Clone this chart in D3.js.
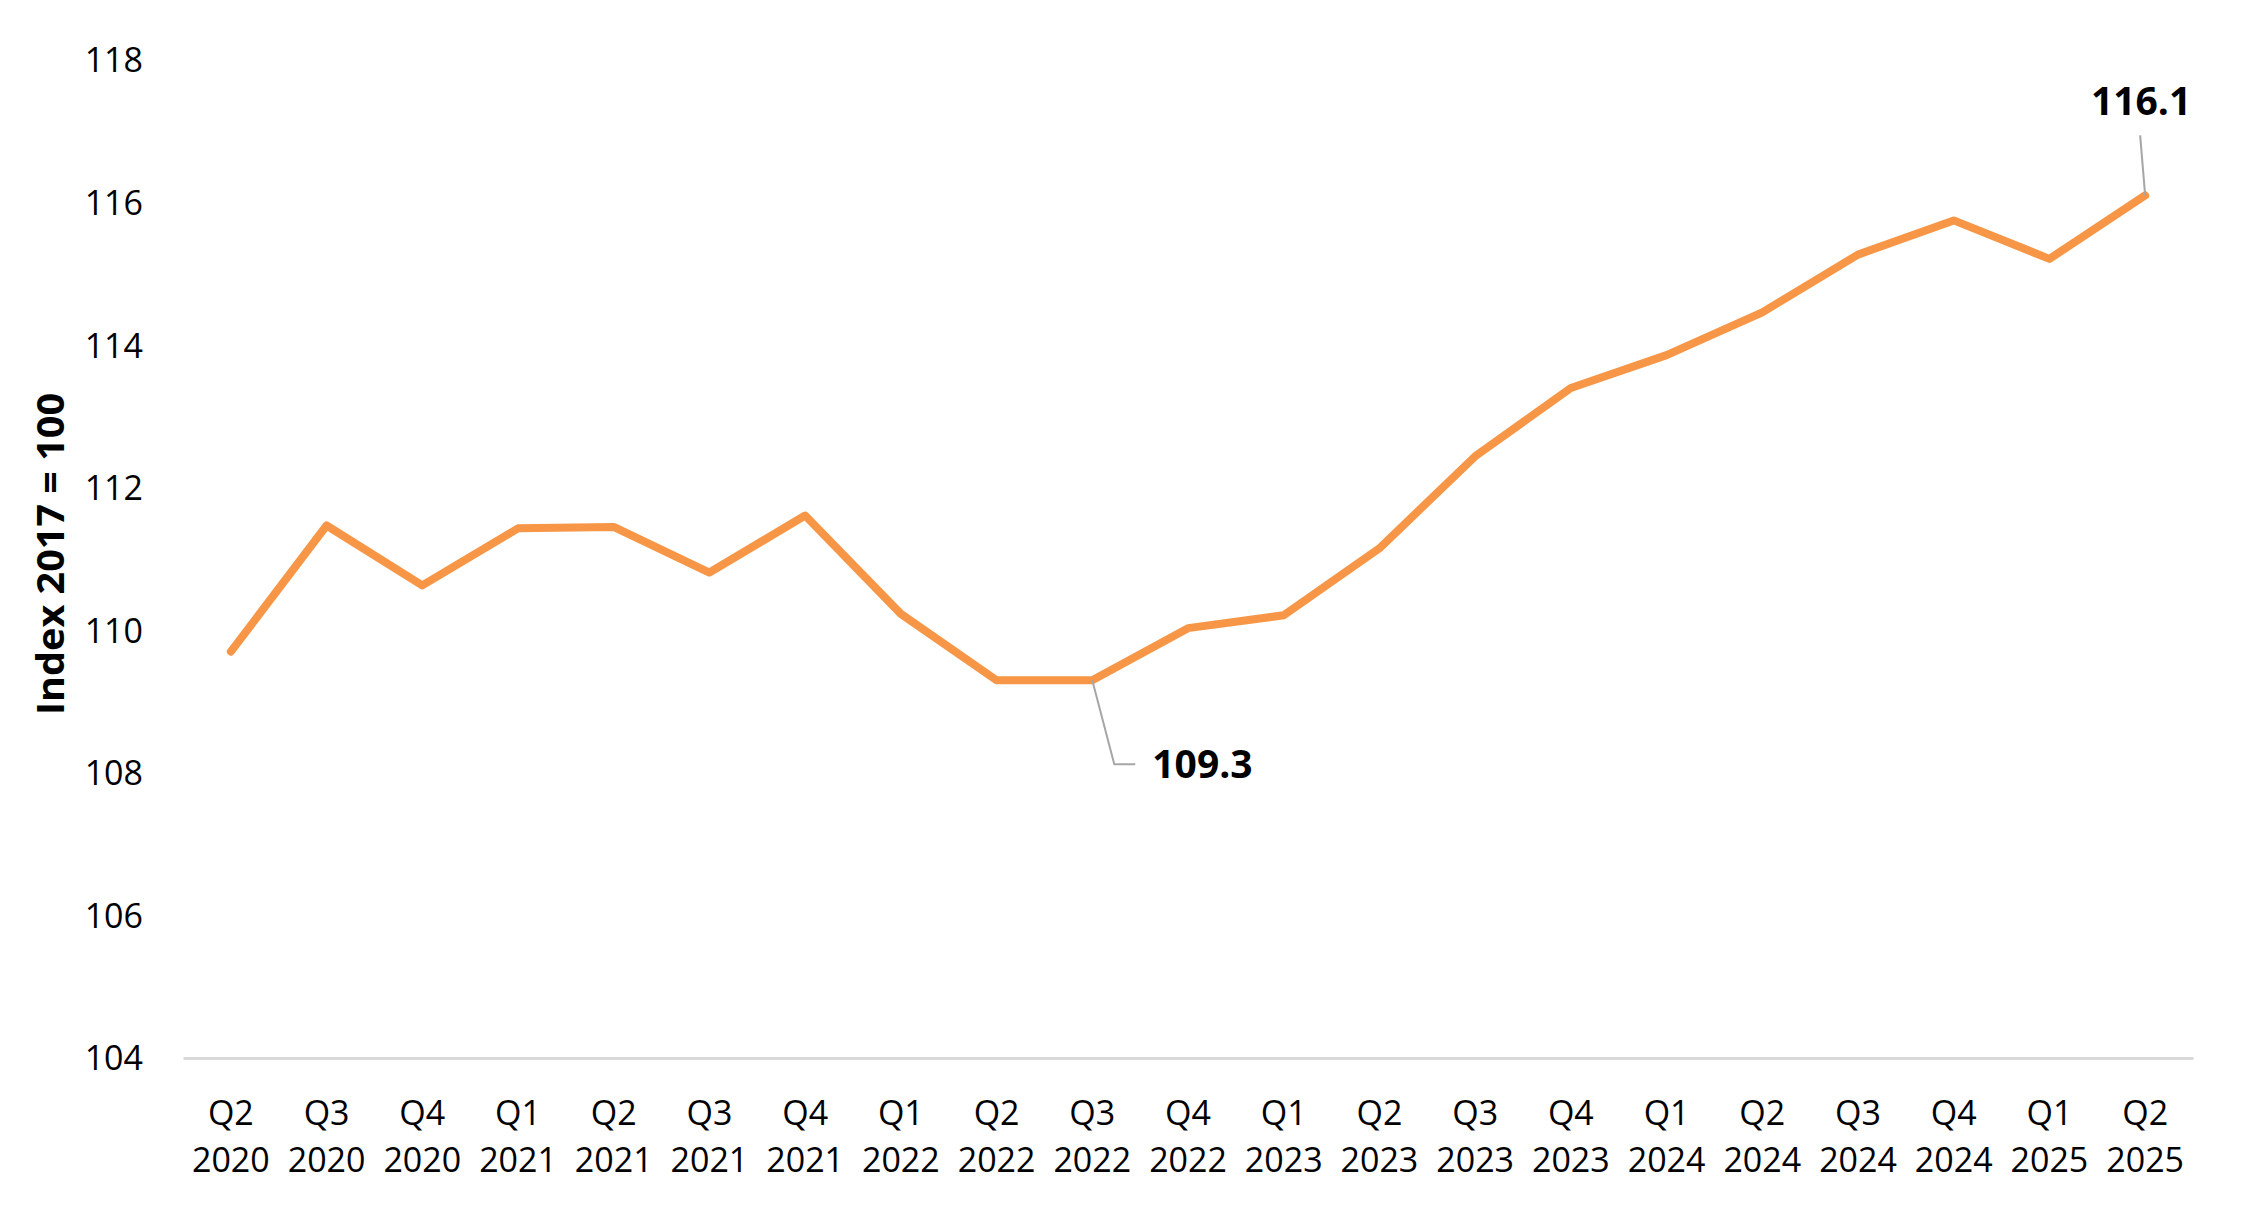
<!DOCTYPE html>
<html>
<head>
<meta charset="utf-8">
<script src="https://cdn.jsdelivr.net/npm/d3@7"></script>
<style>
  html, body { margin: 0; padding: 0; background: #fff; }
  svg { display: block; }
  text { font-family: "Open Sans", "Noto Sans", sans-serif; fill: #000; }
</style>
</head>
<body>
<script>
const quarters = ["Q2","Q3","Q4","Q1","Q2","Q3","Q4","Q1","Q2","Q3","Q4","Q1","Q2","Q3","Q4","Q1","Q2","Q3","Q4","Q1","Q2"];
const years = ["2020","2020","2020","2021","2021","2021","2021","2022","2022","2022","2022","2023","2023","2023","2023","2024","2024","2024","2024","2025","2025"];
const values = [109.7,111.47,110.63,111.43,111.45,110.81,111.61,110.23,109.3,109.3,110.03,110.21,111.15,112.44,113.4,113.86,114.46,115.27,115.75,115.21,116.1];
const yTicks = [104,106,108,110,112,114,116,118];
const yTitle = "Index 2017 = 100";
const annotated = [9, 20];

(function () {
const W = 2245, H = 1215;
const mLeft = 183, mRight = 2193, mTop = 60, mBottom = 1058;

const svg = d3.select("body").append("svg").attr("width", W).attr("height", H);

const cats = values.map((v, i) => i);
const x = d3.scaleBand().domain(cats).range([mLeft, mRight]).padding(0);
const cx = i => x(i) + x.bandwidth() / 2;
const y = d3.scaleLinear().domain([104, 118]).range([mBottom, mTop]);

// y axis labels
const yAxis = d3.axisLeft(y).tickValues(yTicks).tickSize(0).tickPadding(0).tickFormat(d3.format("d"));
const gy = svg.append("g").attr("transform", `translate(143,0)`).call(yAxis);
gy.select(".domain").remove();
gy.selectAll("text").style("font-size", "34px").attr("dy", "0.35em").style("fill", "#000").style("font-family", "'Open Sans', sans-serif");

// x axis
const xAxis = d3.axisBottom(x).tickSize(0).tickFormat(() => "");
const gx = svg.append("g").attr("transform", `translate(0,${mBottom})`).call(xAxis);
gx.select(".domain").attr("stroke", "#D9D9D9").attr("stroke-width", 3);
gx.selectAll(".tick").each(function(d) {
  const t = d3.select(this).select("text").text(null).attr("y", 0).attr("dy", null);
  t.append("tspan").attr("x", 0).attr("y", 67).text(quarters[d]);
  t.append("tspan").attr("x", 0).attr("y", 114).text(years[d]);
});
gx.selectAll("text").style("font-size", "34px").attr("text-anchor", "middle").style("fill", "#000").style("font-family", "'Open Sans', sans-serif");

// y title
svg.append("text")
  .attr("transform", `translate(64,554) rotate(-90)`)
  .attr("text-anchor", "middle")
  .style("font-size", "38px").style("font-weight", "bold")
  .attr("textLength", 322).attr("lengthAdjust", "spacingAndGlyphs")
  .text(yTitle);

// line
const line = d3.line().x((d, i) => cx(i)).y(d => y(d));
svg.append("path").datum(values)
  .attr("d", line)
  .attr("fill", "none")
  .attr("stroke", "#F79646")
  .attr("stroke-width", 8)
  .attr("stroke-linejoin", "round")
  .attr("stroke-linecap", "round");

// annotations
const fmt = d3.format(".1f");
{
  const i = annotated[0];
  const px = cx(i), py = y(values[i]);
  svg.append("polyline")
    .attr("points", [[px, py], [px + 22, py + 84], [px + 43, py + 84]].map(p => p.join(",")).join(" "))
    .attr("fill", "none").attr("stroke", "#A6A6A6").attr("stroke-width", 2);
  svg.append("text").attr("x", px + 60).attr("y", py + 98)
    .style("font-size", "39px").style("font-weight", "bold")
    .text(fmt(values[i]));
}
{
  const i = annotated[1];
  const px = cx(i), py = y(values[i]);
  svg.append("line")
    .attr("x1", px).attr("y1", py)
    .attr("x2", px - 5).attr("y2", py - 60)
    .attr("stroke", "#A6A6A6").attr("stroke-width", 2);
  svg.append("text").attr("x", px - 4).attr("y", py - 80)
    .attr("text-anchor", "middle")
    .style("font-size", "39px").style("font-weight", "bold")
    .text(fmt(values[i]));
}
})();
</script>
</body>
</html>
